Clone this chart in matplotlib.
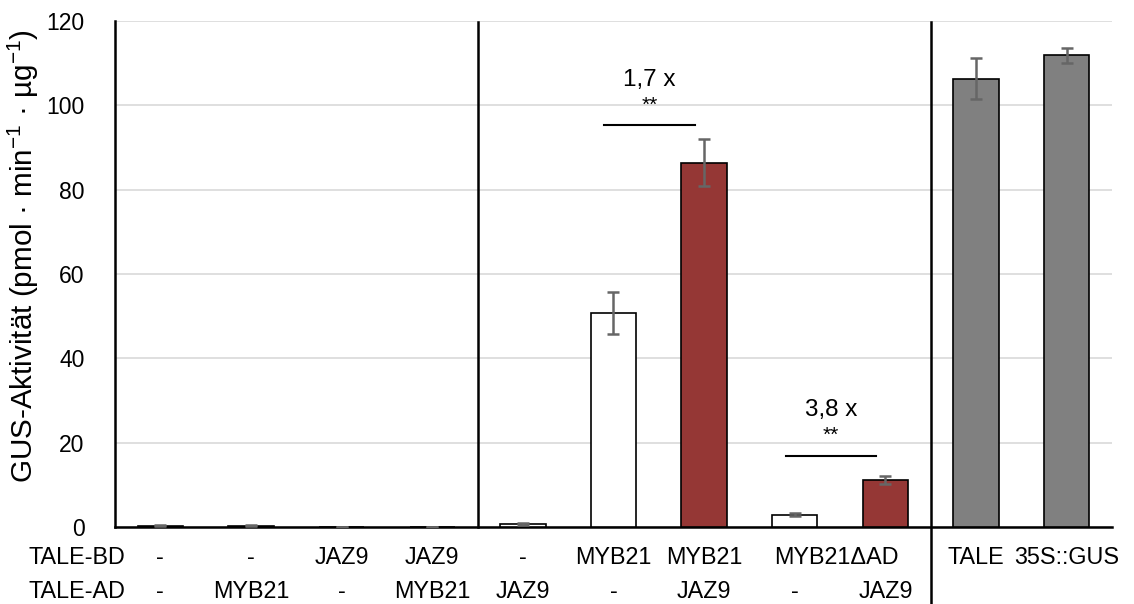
import numpy as np
import matplotlib.pyplot as plt
from matplotlib import transforms

plt.rcParams['font.family'] = ['Liberation Sans', 'DejaVu Sans']
plt.rcParams['mathtext.fontset'] = 'custom'
plt.rcParams['mathtext.rm'] = 'Liberation Sans'
plt.rcParams['mathtext.it'] = 'Liberation Sans:italic'

# GUS-Aktivität je Kombination
gus_mean = [0.3, 0.3, 0.0, 0.0, 0.8, 50.7, 86.4, 2.9, 11.1, 106.3, 111.9]
gus_err = [0.15, 0.15, 0.0, 0.0, 0.25, 5.0, 5.6, 0.4, 0.9, 4.9, 1.8]
bar_colors = ['white', 'white', 'white', 'white', 'white', 'white', '#953735',
              'white', '#953735', '#808080', '#808080']

# Beschriftung unter der Achse
bd_labels = ['-', '-', 'JAZ9', 'JAZ9', '-', 'MYB21', 'MYB21', None, None, 'TALE', '35S::GUS']
ad_labels = ['-', 'MYB21', '-', 'MYB21', 'JAZ9', '-', 'JAZ9', '-', 'JAZ9', '', '']
bd_span_label = 'MYB21ΔAD'
bd_span = (7, 8)

# Signifikanzen: (links, rechts, höhe, text)
sig_pairs = [(5, 6, 95.3, '1,7 x'), (7, 8, 16.9, '3,8 x')]

fs = 16.8

fig = plt.figure(figsize=(11.34, 6.04), dpi=100)
ax = fig.add_axes([0.1014, 0.1275, 0.8792, 0.8377])

x = np.arange(len(gus_mean))
ax.bar(x, gus_mean, width=0.5, color=bar_colors, edgecolor='black', linewidth=1.2, zorder=3)
ax.errorbar(x, gus_mean, yerr=gus_err, fmt='none', ecolor='#666666', elinewidth=1.8,
            capsize=4, capthick=1.8, zorder=4)

ax.set_xlim(-0.5, 10.5)
ax.set_ylim(0, 120)
ax.set_yticks(np.arange(0, 121, 20))
ax.set_xticks([])
ax.tick_params(axis='y', length=0, pad=22, labelsize=16.5)
ax.yaxis.grid(True, color='#d9d9d9', linewidth=1.2, zorder=0)
ax.set_axisbelow(True)
for s in ['top', 'right']:
    ax.spines[s].set_visible(False)
ax.spines['left'].set_linewidth(1.8)
ax.spines['bottom'].set_linewidth(1.8)

ax.set_ylabel('GUS-Aktivität (pmol · min$^{-1}$ · µg$^{-1}$)', fontsize=21.3)
ax.yaxis.set_label_coords(-0.074, 0.535)

trans = transforms.blended_transform_factory(ax.transData, ax.transAxes)
# Trennlinien zwischen den Gruppen
ax.plot([3.5, 3.5], [0, 0.998], color='black', lw=1.8, transform=trans, clip_on=False)
ax.plot([8.5, 8.5], [-0.16, 0.998], color='black', lw=1.8, transform=trans, clip_on=False)

row_y = [-0.061, -0.127]
ax.text(-0.087, row_y[0], 'TALE-BD', transform=ax.transAxes, ha='left', va='center', fontsize=fs)
ax.text(-0.087, row_y[1], 'TALE-AD', transform=ax.transAxes, ha='left', va='center', fontsize=fs)
for i, (bd, ad) in enumerate(zip(bd_labels, ad_labels)):
    if bd:
        ax.text(i, row_y[0], bd, transform=trans, ha='center', va='center', fontsize=fs)
    if ad:
        ax.text(i, row_y[1], ad, transform=trans, ha='center', va='center', fontsize=fs)
ax.text(np.mean(bd_span) - 0.04, row_y[0], bd_span_label, transform=trans, ha='center',
        va='center', fontsize=fs)

for left, right, h, label in sig_pairs:
    ax.plot([left - 0.1, right - 0.1], [h, h], color='black', lw=1.5, zorder=5)
    mid = (left + right) / 2 - 0.1
    ax.text(mid, h + 4.8, '**', ha='center', va='center', fontsize=15)
    ax.text(mid, h + 10.8, label, ha='center', va='center', fontsize=17.5)

fig.savefig('out.png', dpi=100)
